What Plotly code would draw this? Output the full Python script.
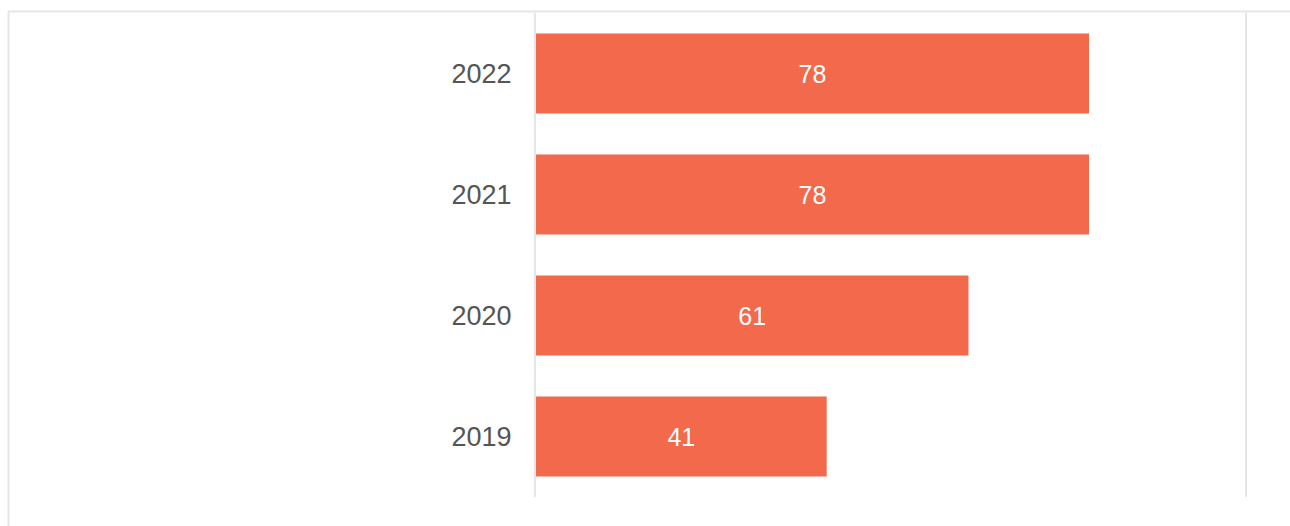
import plotly.graph_objects as go

years = ["2019", "2020", "2021", "2022"]
values = [41, 61, 78, 78]

BAR_COLOR = "#F2694B"
GRID_COLOR = "#E6E6E6"

fig = go.Figure(
    go.Bar(
        x=values,
        y=years,
        orientation="h",
        marker=dict(color=BAR_COLOR, line=dict(width=0)),
        text=[str(v) for v in values],
        textposition="inside",
        insidetextanchor="middle",
        textfont=dict(family="Liberation Sans, Arial, sans-serif", size=25, color="white"),
        hoverinfo="skip",
    )
)

# plot area: x 536..1245, y 13..497 in a 1290x526 page
L, R, T, B = 536, 45, 13, 29
W, H = 1290, 526
pw, ph = W - L - R, H - T - B

def px_x(px):
    return (px - L) / pw

def px_y(py):
    return (H - B - py) / ph

# outer frame (top and left edges)
frame = dict(type="line", xref="paper", yref="paper",
             line=dict(color=GRID_COLOR, width=2), layer="below")
shapes = [
    dict(frame, x0=px_x(8), x1=px_x(1300), y0=px_y(11.5), y1=px_y(11.5)),
    dict(frame, x0=px_x(8.5), x1=px_x(8.5), y0=px_y(11.5), y1=px_y(540)),
]

fig.update_layout(
    width=W,
    height=H,
    margin=dict(l=L, r=R, t=T, b=B, autoexpand=False),
    paper_bgcolor="white",
    plot_bgcolor="white",
    bargap=0.34,
    showlegend=False,
    shapes=shapes,
    font=dict(family="Liberation Sans, Arial, sans-serif"),
    xaxis=dict(
        range=[0, 100],
        dtick=100,
        showticklabels=False,
        showgrid=False,
        zeroline=False,
        showline=False,
        fixedrange=True,
    ),
    yaxis=dict(
        categoryorder="array",
        categoryarray=years,
        showgrid=False,
        zeroline=False,
        # vertical rules at x = 0 and x = 100
        showline=True,
        mirror=True,
        linecolor=GRID_COLOR,
        linewidth=2,
        ticks="",
        ticklabelstandoff=17,
        tickfont=dict(size=27, color="#555555"),
        fixedrange=True,
    ),
)

fig.write_html("out.html", config={"displayModeBar": False})
